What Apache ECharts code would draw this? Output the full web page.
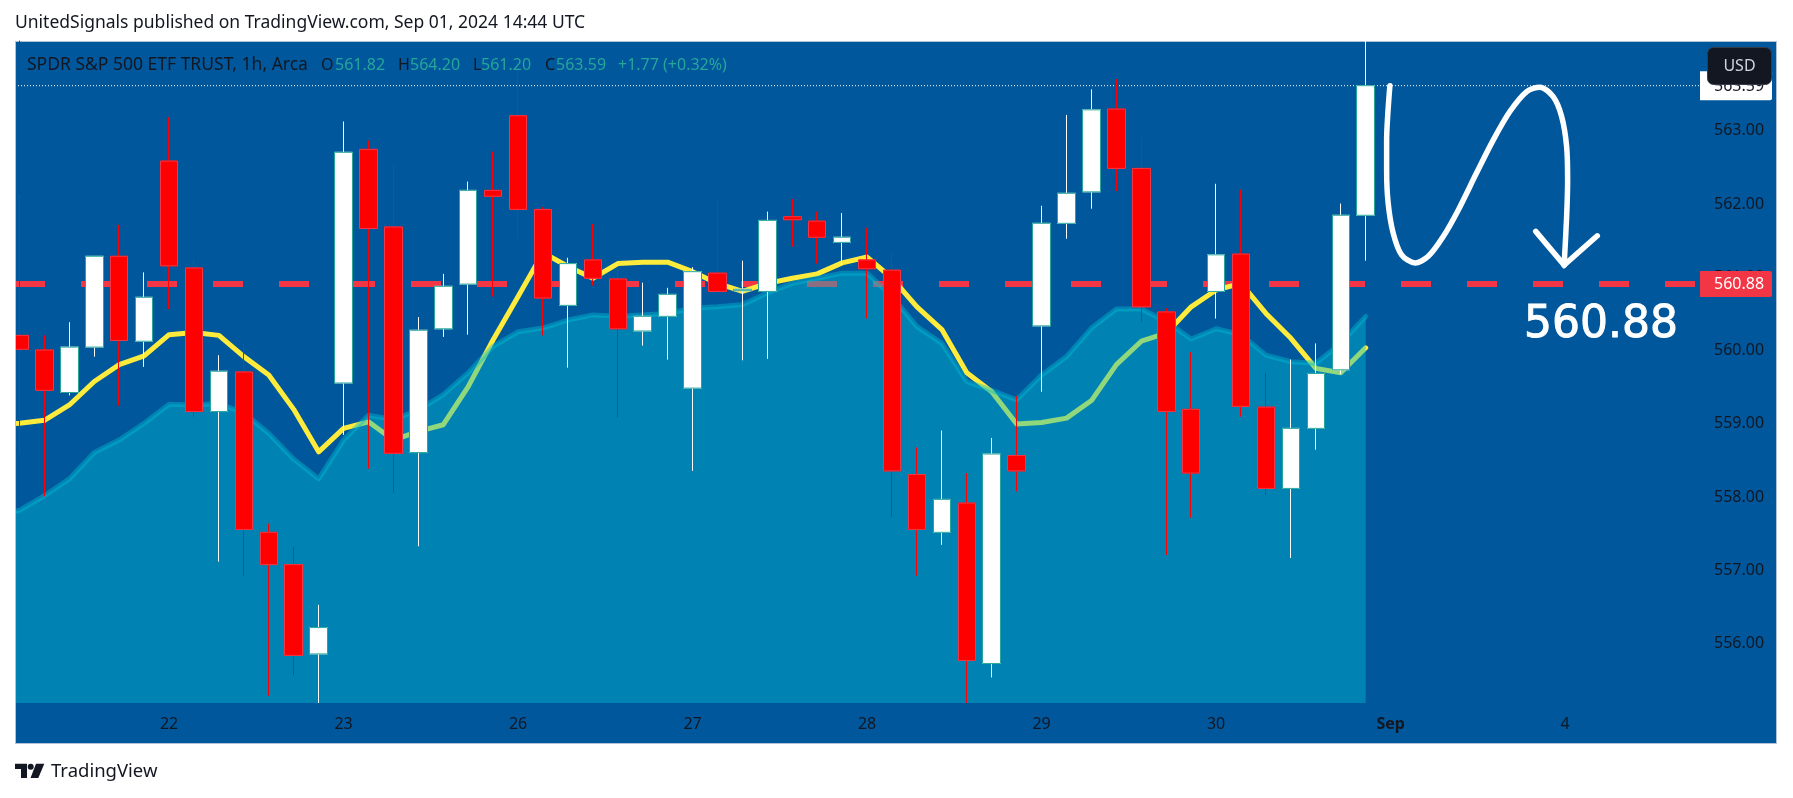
<!DOCTYPE html>
<html>
<head>
<meta charset="utf-8">
<title>SPY 1h</title>
<script src="https://cdn.jsdelivr.net/npm/echarts@6/dist/echarts.min.js"></script>
<style>
    html, body { margin: 0; padding: 0; background: #fff; }
    #chart { width: 1793px; height: 798px; }
</style>
</head>
<body>
<div id="chart"></div>
<script>
// hourly candles
var opens = [560.18, 559.98, 559.40, 560.02, 561.26, 560.10, 562.56, 561.10, 559.14, 559.68, 557.49, 557.05, 555.83,
    559.53, 562.72, 561.66, 558.58, 560.27, 560.88, 562.16, 563.18, 561.90, 560.59, 561.21, 560.95, 560.24, 560.44,
    559.46, 561.03, 560.79, 560.78, 561.80, 561.74, 561.45, 561.21, 561.07, 558.28, 557.49, 557.89, 555.70, 558.54,
    560.31, 561.71, 562.14, 563.27, 562.46, 560.50, 559.17, 560.78, 561.29, 559.20, 558.09, 558.91, 559.71, 561.82];
var closes = [559.99, 559.43, 560.02, 561.26, 560.11, 560.70, 561.13, 559.14, 559.69, 557.53, 557.05, 555.81, 556.19,
    562.68, 561.64, 558.57, 560.25, 560.85, 562.16, 562.08, 561.90, 560.69, 561.16, 560.96, 560.27, 560.44, 560.74,
    561.05, 560.78, 560.81, 561.75, 561.76, 561.52, 561.52, 561.09, 558.33, 557.53, 557.94, 555.74, 558.56, 558.33,
    561.71, 562.12, 563.26, 562.46, 560.57, 559.14, 558.30, 561.28, 559.21, 558.09, 558.91, 559.66, 561.82, 563.59];
var lows = [558.55, 557.98, 559.36, 559.89, 559.22, 559.75, 560.54, 559.07, 557.09, 556.90, 555.26, 555.54, 555.16,
    558.82, 558.36, 558.03, 557.30, 560.16, 560.19, 560.71, 561.50, 560.18, 559.74, 560.86, 559.06, 560.04, 559.85,
    558.33, 560.75, 559.84, 559.86, 561.39, 561.16, 561.14, 560.41, 557.70, 556.90, 557.32, 555.16, 555.51, 558.05,
    559.41, 561.50, 561.91, 562.15, 560.36, 557.18, 557.69, 560.41, 559.07, 558.00, 557.14, 558.62, 559.65, 561.20];
var highs = [562.11, 560.18, 560.36, 561.26, 561.69, 561.04, 563.16, 561.23, 559.91, 560.07, 557.61, 557.29, 556.50,
    563.10, 562.84, 562.50, 560.43, 561.02, 562.28, 562.69, 563.92, 561.93, 561.24, 561.70, 561.08, 560.90, 560.83,
    561.11, 562.04, 561.20, 561.87, 562.04, 561.87, 561.85, 561.65, 561.30, 558.65, 558.88, 558.30, 558.78, 559.35,
    561.95, 563.19, 563.54, 563.68, 562.89, 560.55, 559.95, 562.25, 562.17, 559.67, 559.85, 560.07, 561.98, 564.20];

// moving average drawn yellow, first value is the bar before the window
var maValues = [558.96, 558.98, 559.02, 559.23, 559.55, 559.78, 559.90, 560.19, 560.22, 560.18, 559.89, 559.64, 559.17,
    558.59, 558.91, 559.00, 558.75, 558.87, 558.96, 559.48, 560.12, 560.71, 561.31, 561.12, 560.96, 561.16, 561.18,
    561.18, 561.05, 560.89, 560.78, 560.89, 560.96, 561.02, 561.17, 561.25, 560.96, 560.57, 560.26, 559.67, 559.41,
    558.97, 558.99, 559.05, 559.29, 559.78, 560.10, 560.21, 560.57, 560.80, 560.89, 560.48, 560.14, 559.73, 559.67, 560.01];
// cyan area, same start as above
var areaValues = [557.71, 557.79, 557.99, 558.22, 558.58, 558.75, 558.98, 559.24, 559.23, 559.25, 559.12, 558.84, 558.49,
    558.22, 558.75, 559.09, 559.03, 559.16, 559.37, 559.67, 560.03, 560.23, 560.28, 560.39, 560.46, 560.44, 560.46,
    560.48, 560.55, 560.57, 560.60, 560.76, 560.89, 560.96, 561.03, 561.03, 560.71, 560.30, 560.07, 559.55, 559.43,
    559.30, 559.64, 559.89, 560.28, 560.54, 560.54, 560.37, 560.13, 560.27, 560.19, 559.91, 559.82, 559.80, 560.07, 560.44];

var priceTicks = [556, 557, 558, 559, 560, 561, 562, 563];
var targetPrice = 560.88;
var lastPrice = 563.59;
var dateTicks = [6, 13, 20, 27, 34, 41, 48, 55, 62];
var dateLabels = ['22', '23', '26', '27', '28', '29', '30', 'Sep', '4'];

// the hand drawn arrow, in bar index / price
var sketchBars = [54.97, 54.89, 54.84, 54.84, 54.90, 55.10, 55.44, 55.98, 56.51, 57.11, 57.71, 58.45, 59.12, 59.79, 60.46,
    60.99, 61.52, 61.86, 62.06, 62.10, 62.06, 61.96];
var sketchPrices = [563.59, 563.22, 562.85, 562.44, 561.99, 561.58, 561.28, 561.17, 561.26, 561.53, 561.89, 562.40, 562.85,
    563.24, 563.51, 563.57, 563.44, 563.17, 562.76, 562.30, 561.80, 561.14];
var headBars = [60.82, 61.96, 63.29];
var headPrices = [561.60, 561.14, 561.54];

var xMin = -0.18, xMax = 67.41;
var panelBlue = '#01579b', inkColor = '#131722', tealText = '#26a69a';
var fontName = '"Noto Sans", sans-serif';

function pairs(xs, ys) {
    return ys.map(function (y, i) { return [xs[i], y]; });
}

var barIndex = opens.map(function (v, i) { return i; });
var lineIndex = [-1].concat(barIndex);

// wicks and fill come from fullCandles, the outline from bodyCandles which has no wick
var fullCandles = opens.map(function (o, i) { return [i, o, closes[i], lows[i], highs[i]]; });
var bodyCandles = opens.map(function (o, i) {
    return [i, o, closes[i], Math.min(o, closes[i]), Math.max(o, closes[i])];
});

function headerText(x, text, color) {
    return {
        type: 'text', x: x, y: 65, z: 50,
        style: { text: text, fill: color, font: '16px ' + fontName, verticalAlign: 'middle' }
    };
}

var chart = echarts.init(document.getElementById('chart'), null, { renderer: 'canvas' });
chart.setOption({
    animation: false,
    backgroundColor: '#ffffff',
    textStyle: { fontFamily: fontName },
    grid: { left: 15, right: 93, top: 41, bottom: 95 },
    xAxis: {
        type: 'value', min: xMin, max: xMax,
        splitLine: { show: false },
        axisLine: { show: false },
        axisTick: { show: false },
        axisLabel: {
            customValues: dateTicks,
            margin: 13,
            color: inkColor,
            fontSize: 16,
            formatter: function (value) {
                var label = dateLabels[dateTicks.indexOf(value)];
                return label === 'Sep' ? '{month|Sep}' : label;
            },
            rich: { month: { fontWeight: 'bold', fontSize: 16, color: inkColor } }
        }
    },
    yAxis: {
        type: 'value', min: 555.16, max: 564.2, position: 'right',
        splitLine: { show: false },
        axisTick: { show: false },
        axisLine: { show: true, lineStyle: { color: '#0b4f8a', width: 1 } },
        axisLabel: {
            customValues: priceTicks.concat([lastPrice, targetPrice]),
            margin: 0,
            align: 'left',
            formatter: function (value) {
                var style = value === targetPrice ? 'target' : value === lastPrice ? 'last' : 'tick';
                return '{' + style + '|' + value.toFixed(2) + '}';
            },
            rich: {
                tick: { color: inkColor, fontSize: 16, padding: [4, 0, 0, 14] },
                target: {
                    color: '#ffffff', fontSize: 16, backgroundColor: '#f23645', width: 58, lineHeight: 17,
                    padding: [5, 0, 5, 14], borderRadius: [0, 2, 2, 0]
                },
                last: {
                    color: inkColor, fontSize: 16, backgroundColor: '#ffffff', width: 58, lineHeight: 17,
                    padding: [7, 0, 6, 14], borderRadius: [0, 2, 2, 0]
                }
            }
        }
    },
    series: [
        {
            name: 'target', type: 'line', z: 1, silent: true, showSymbol: false,
            data: [[xMin, targetPrice], [xMax, targetPrice]],
            lineStyle: { color: '#f23645', width: 6, type: [30, 36] }
        },
        {
            name: 'MA', type: 'line', z: 2, showSymbol: false,
            data: pairs(lineIndex, maValues),
            lineStyle: { color: '#ffeb3b', width: 5, cap: 'round', join: 'round' }
        },
        {
            name: 'area', type: 'line', z: 3, showSymbol: false,
            data: pairs(lineIndex, areaValues),
            lineStyle: { color: 'rgba(0,188,212,0.43)', width: 5, cap: 'round', join: 'round' },
            areaStyle: { color: 'rgba(0,188,212,0.43)', origin: 'start', opacity: 1 }
        },
        {
            name: 'last', type: 'line', z: 4, silent: true, showSymbol: false,
            data: [[xMin, lastPrice], [xMax, lastPrice]],
            lineStyle: { color: '#ffffff', width: 1, type: [1, 2] }
        },
        {
            name: 'SPY', type: 'candlestick', z: 5, barWidth: 18,
            encode: { x: 0, y: [1, 2, 3, 4] },
            data: fullCandles,
            itemStyle: { color: '#ffffff', color0: '#ff0000', borderColor: '#ffffff', borderColor0: '#ff0000', borderWidth: 1 }
        },
        {
            name: 'SPY body', type: 'candlestick', z: 6, barWidth: 18,
            encode: { x: 0, y: [1, 2, 3, 4] },
            data: bodyCandles,
            itemStyle: { color: '#ffffff', color0: '#ff0000', borderColor: '#26a69a', borderColor0: '#f23645', borderWidth: 1 }
        },
        {
            name: 'sketch', type: 'line', z: 7, silent: true, showSymbol: false, smooth: 0.3,
            data: pairs(sketchBars, sketchPrices),
            lineStyle: { color: '#ffffff', width: 5.5, cap: 'round', join: 'round' }
        },
        {
            name: 'sketch head', type: 'line', z: 7, silent: true, showSymbol: false,
            data: pairs(headBars, headPrices),
            lineStyle: { color: '#ffffff', width: 5.5, cap: 'round', join: 'miter' }
        }
    ],
    graphic: {
        elements: [
            // chart panel behind the grid
            {
                type: 'rect', z: -10, silent: true,
                shape: { x: 15.5, y: 41.5, width: 1761, height: 702 },
                style: { fill: panelBlue, stroke: '#b2c1d6', lineWidth: 1 }
            },
            // candlesticks and lines spill over the left edge of the grid, hide that
            {
                type: 'rect', z: 40, silent: true,
                shape: { x: 0, y: 38, width: 15, height: 710 },
                style: { fill: '#ffffff' }
            },
            {
                type: 'line', z: 41, silent: true,
                shape: { x1: 15.5, y1: 41, x2: 15.5, y2: 744 },
                style: { stroke: '#b2c1d6', lineWidth: 1 }
            },
            {
                type: 'text', x: 15, y: 23,
                style: {
                    text: 'UnitedSignals published on TradingView.com, Sep 01, 2024 14:44 UTC',
                    fill: inkColor, font: '17.5px ' + fontName, verticalAlign: 'middle'
                }
            },
            {
                type: 'text', x: 27, y: 65, z: 50,
                style: { text: 'SPDR S&P 500 ETF TRUST, 1h, Arca', fill: inkColor, font: '17.5px ' + fontName, verticalAlign: 'middle' }
            },
            headerText(321, 'O', inkColor),
            headerText(335, '561.82', tealText),
            headerText(398, 'H', inkColor),
            headerText(410, '564.20', tealText),
            headerText(473, 'L', inkColor),
            headerText(481, '561.20', tealText),
            headerText(545, 'C', inkColor),
            headerText(556, '563.59', tealText),
            headerText(618, '+1.77 (+0.32%)', tealText),
            // currency button
            {
                type: 'rect', z: 60, silent: true,
                shape: { x: 1707.5, y: 47.5, width: 64, height: 37, r: 6 },
                style: { fill: inkColor, stroke: '#363a45', lineWidth: 1 }
            },
            {
                type: 'text', z: 61, x: 1739.5, y: 66,
                style: { text: 'USD', fill: '#d1d4dc', font: '16px ' + fontName, align: 'center', verticalAlign: 'middle' }
            },
            {
                type: 'text', z: 61, x: 1524, y: 326,
                style: {
                    text: '560.88', fill: '#ffffff', stroke: '#ffffff', lineWidth: 1,
                    font: '44px "DejaVu Sans", sans-serif', verticalAlign: 'middle'
                }
            },
            // TradingView mark
            {
                type: 'polygon', silent: true,
                shape: { points: [[15, 763.7], [27, 763.7], [27, 778], [21, 778], [21, 769], [15, 769]] },
                style: { fill: inkColor }
            },
            {
                type: 'polygon', silent: true,
                shape: { points: [[44.3, 763.7], [38.3, 778], [30.5, 778], [36, 763.7]] },
                style: { fill: inkColor }
            },
            {
                type: 'circle', silent: true,
                shape: { cx: 30.7, cy: 766.7, r: 3 },
                style: { fill: inkColor }
            },
            {
                type: 'text', x: 51, y: 772,
                style: { text: 'TradingView', fill: inkColor, font: '18.5px ' + fontName, verticalAlign: 'middle' }
            }
        ]
    }
});
</script>
</body>
</html>
